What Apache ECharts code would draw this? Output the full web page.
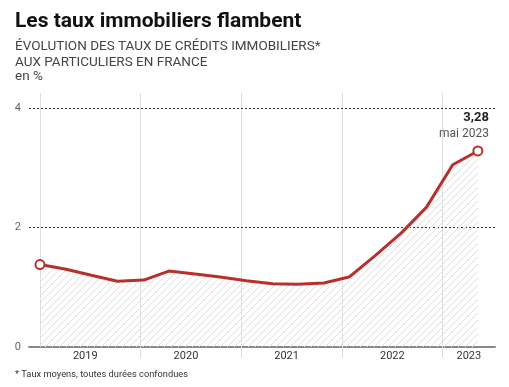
<!DOCTYPE html>
<html>
<head>
<meta charset="utf-8">
<style>
  html, body { margin: 0; padding: 0; background: #fff; }
  #chart { width: 509px; height: 387px; }
</style>
<script src="https://cdn.jsdelivr.net/npm/echarts@6/dist/echarts.min.js"></script>
</head>
<body>
<div id="chart"></div>
<script>
// ---- Data ----
var dates = [2019.0, 2019.26, 2019.51, 2019.77, 2020.03, 2020.28, 2020.54, 2020.79, 2021.05,
             2021.31, 2021.56, 2021.82, 2022.07, 2022.33, 2022.59, 2022.84, 2023.10, 2023.35];
var rates = [1.38, 1.30, 1.20, 1.10, 1.12, 1.27, 1.22, 1.17, 1.11,
             1.06, 1.05, 1.07, 1.17, 1.53, 1.91, 2.34, 3.05, 3.28];
var yearBoundaries = [2019, 2020, 2021, 2022, 2023];
var yearLabelPositions = [2019.45, 2020.45, 2021.45, 2022.5, 2023.26];
var yTicks = [0, 2, 4];
var lastLabelValue = '3,28';
var lastLabelDate = 'mai 2023';

var RED = '#b7312c';

// hatch pattern
var pc = document.createElement('canvas');
pc.width = 7; pc.height = 7;
var pctx = pc.getContext('2d');
pctx.strokeStyle = '#dcdcdc';
pctx.lineWidth = 1;
pctx.beginPath();
pctx.moveTo(-1, 8); pctx.lineTo(8, -1);
pctx.moveTo(-1, 1); pctx.lineTo(1, -1);
pctx.moveTo(6, 8); pctx.lineTo(8, 6);
pctx.stroke();

var data = dates.map(function (d, i) {
  var item = { value: [d, rates[i]] };
  if (i === dates.length - 1) {
    item.label = {
      show: true,
      position: 'top',
      align: 'right',
      distance: 3,
      offset: [11, 0],
      formatter: '{v|' + lastLabelValue + '}\n{d|' + lastLabelDate + '}',
      rich: {
        v: { fontFamily: 'Roboto', fontSize: 13, fontWeight: 'bold', color: '#222', align: 'right', lineHeight: 17 },
        d: { fontFamily: 'Roboto', fontSize: 12, color: '#555', align: 'right', lineHeight: 16 }
      }
    };
  }
  return item;
});

var markData = yearBoundaries.map(function (y) {
  return { xAxis: y, lineStyle: { color: '#dedede', width: 1, type: 'solid' } };
});
yTicks.slice(1).forEach(function (v) {
  markData.push({ yAxis: v, lineStyle: { color: '#333', width: 1, type: [2, 2] } });
});

var chart = echarts.init(document.getElementById('chart'), null, { renderer: 'canvas' });
chart.setOption({
  animation: false,
  backgroundColor: '#fff',
  title: [
    { text: 'Les taux immobiliers flambent', left: 15, top: 11, padding: 0,
      textStyle: { fontFamily: 'Roboto', fontSize: 21, fontWeight: 'bold', color: '#111' } },
    { text: 'ÉVOLUTION DES TAUX DE CRÉDITS IMMOBILIERS*\nAUX PARTICULIERS EN FRANCE', left: 15, top: 39, padding: 0,
      textStyle: { fontFamily: 'Roboto', fontSize: 13.5, fontWeight: 'normal', color: '#444', lineHeight: 16 } },
    { text: 'en %', left: 15, top: 70, padding: 0,
      textStyle: { fontFamily: 'Roboto', fontSize: 13.5, fontWeight: 'normal', color: '#444' } },
    { text: '* Taux moyens, toutes durées confondues', left: 15, top: 370, padding: 0,
      textStyle: { fontFamily: 'Roboto', fontSize: 9.3, fontWeight: 'normal', color: '#333' } }
  ],
  grid: { left: 29, right: 14, top: 93, bottom: 40, containLabel: false },
  xAxis: {
    type: 'value',
    min: 2018.891,
    max: 2023.52,
    splitLine: { show: false },
    axisLine: { show: true, onZero: false, lineStyle: { color: '#888', width: 2 } },
    axisTick: { show: true, customValues: yearBoundaries.slice(1), length: 11, lineStyle: { color: '#dedede', width: 1 } },
    axisLabel: {
      show: true,
      customValues: yearLabelPositions,
      margin: 4,
      fontFamily: 'Roboto', fontSize: 11, color: '#333',
      formatter: function (v) { return String(Math.floor(v)); }
    }
  },
  yAxis: {
    type: 'value',
    min: 0,
    max: 4.25,
    splitLine: { show: false },
    axisLine: { show: false },
    axisTick: { show: false },
    axisLabel: {
      customValues: yTicks,
      margin: 8,
      fontFamily: 'Roboto', fontSize: 11, color: '#666'
    }
  },
  series: [{
    type: 'line',
    data: data,
    symbol: function (val, params) {
      return (params.dataIndex === 0 || params.dataIndex === dates.length - 1) ? 'circle' : 'none';
    },
    symbolSize: 9,
    showSymbol: true,
    itemStyle: { color: '#fff', borderColor: RED, borderWidth: 2 },
    lineStyle: { color: RED, width: 3 },
    areaStyle: { color: { image: pc, repeat: 'repeat' }, opacity: 1, origin: 'start' },
    z: 5,
    markLine: {
      silent: true,
      symbol: 'none',
      label: { show: false },
      animation: false,
      z: 1,
      data: markData
    }
  }]
});
</script>
</body>
</html>
